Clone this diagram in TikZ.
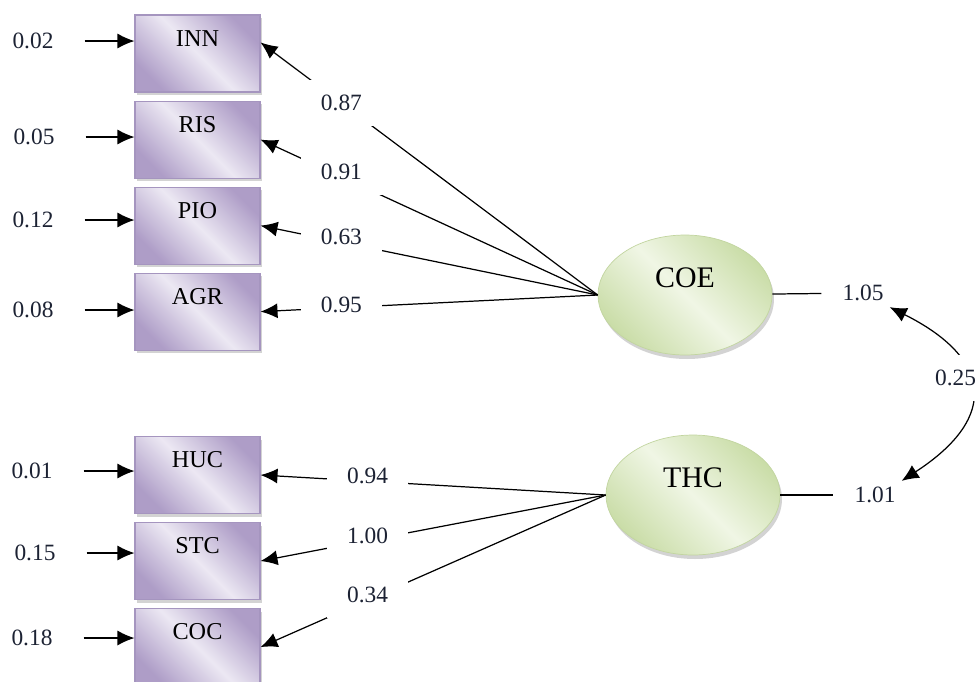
\documentclass[tikz,border=0pt]{standalone}
\usepackage{fontspec}
\setmainfont{Liberation Serif}
\usetikzlibrary{positioning,arrows.meta,shadows,shapes.geometric}
\definecolor{boxdark}{HTML}{AE9DC7}
\definecolor{boxlight}{HTML}{ECE8F3}
\definecolor{boxline}{HTML}{A595BF}
\definecolor{ovdark}{HTML}{CADDA8}
\definecolor{ovlight}{HTML}{F0F6E5}
\definecolor{ovline}{HTML}{C2D5A0}
\definecolor{numcol}{HTML}{1C2233}
\begin{document}
\begin{tikzpicture}[x=0.02cm,y=-0.02cm,>={Latex[length=0.34cm,width=0.3cm]},
  ind/.style={draw=boxline,line width=0.6pt,top color=boxdark,bottom color=boxdark,middle color=boxlight,shading angle=-45,
    minimum width=2.5cm,inner sep=0pt,text height=0.62cm,text depth=0.92cm,font=\fontsize{13.8}{16}\selectfont,
    drop shadow={shadow xshift=0.04cm,shadow yshift=-0.06cm,opacity=0.35}},
  lat/.style={ellipse,draw=ovline,line width=0.4pt,top color=ovdark,bottom color=ovdark,middle color=ovlight,shading angle=-45,
    minimum width=3.48cm,minimum height=2.4cm,inner sep=0pt,text height=0.45cm,text depth=0.77cm,font=\fontsize{17}{20}\selectfont,
    drop shadow={shadow xshift=0.04cm,shadow yshift=-0.08cm,opacity=0.35}},
  num/.style={text=numcol,font=\fontsize{13.3}{16}\selectfont},
  load/.style={num,fill=white,inner xsep=0.4cm,inner ysep=0.3cm,yshift=0.1cm},
  arr/.style={->,line width=0.7pt}]
\useasboundingbox (0,0) rectangle (979,681);

\node[ind] (INN) at (197.5,53.5) {INN};
\node[ind,below=0.16cm of INN] (RIS) {RIS};
\node[ind,below=0.16cm of RIS] (PIO) {PIO};
\node[ind,below=0.16cm of PIO] (AGR) {AGR};
\node[ind] (HUC) at (197.5,475) {HUC};
\node[ind,below=0.16cm of HUC] (STC) {STC};
\node[ind,below=0.16cm of STC] (COC) {COC};

\node[num] (eINN) at (33,41) {0.02};
\node[num] (eRIS) at (34,137) {0.05};
\node[num] (ePIO) at (33,220) {0.12};
\node[num] (eAGR) at (33,310) {0.08};
\node[num] (eHUC) at (32,471) {0.01};
\node[num] (eSTC) at (35,553) {0.15};
\node[num] (eCOC) at (32,638) {0.18};
\draw[arr,shorten <=0.5cm] (eINN) -- (eINN -| INN.west);
\draw[arr,shorten <=0.5cm] (eRIS) -- (eRIS -| RIS.west);
\draw[arr,shorten <=0.5cm] (ePIO) -- (ePIO -| PIO.west);
\draw[arr,shorten <=0.5cm] (eAGR) -- (eAGR -| AGR.west);
\draw[arr,shorten <=0.5cm] (eHUC) -- (eHUC -| HUC.west);
\draw[arr,shorten <=0.5cm] (eSTC) -- (eSTC -| STC.west);
\draw[arr,shorten <=0.5cm] (eCOC) -- (eCOC -| COC.west);

\node[lat] (COE) at (685,295) {COE};
\node[lat] (THC) at (693,495) {THC};

\draw[arr] (COE.west) -- node[load,pos=0.76,yshift=-0.1cm] {0.87} (INN.10);
\draw[arr] (COE.west) -- node[load,pos=0.76] {0.91} (RIS.east);
\draw[arr] (COE.west) -- node[load,pos=0.76] {0.63} (PIO.east);
\draw[arr] (COE.west) -- node[load,pos=0.76,yshift=-0.05cm] {0.95} (AGR.east);
\draw[arr] (THC.west) -- node[load,pos=0.69] {0.94} (HUC.east);
\draw[arr] (THC.west) -- node[load,pos=0.69] {1.00} (STC.east);
\draw[arr] (THC.west) -- node[load,pos=0.69] {0.34} (COC.east);

\node[num] (vCOE) at (863,293) {1.05};
\node[num] (vTHC) at (875,495) {1.01};
\draw[line width=0.7pt,shorten >=0.3cm] (COE) -- (vCOE);
\draw[line width=0.7pt,shorten >=0.3cm] (THC) -- (vTHC);
\draw[<->,line width=0.7pt] (vCOE.south east) .. controls +(2cm,-1cm) and +(2cm,1.3cm) .. node[num,fill=white,inner ysep=0.3cm,xshift=-0.3cm,yshift=0.2cm] {0.25} (vTHC.north east);
\end{tikzpicture}
\end{document}
